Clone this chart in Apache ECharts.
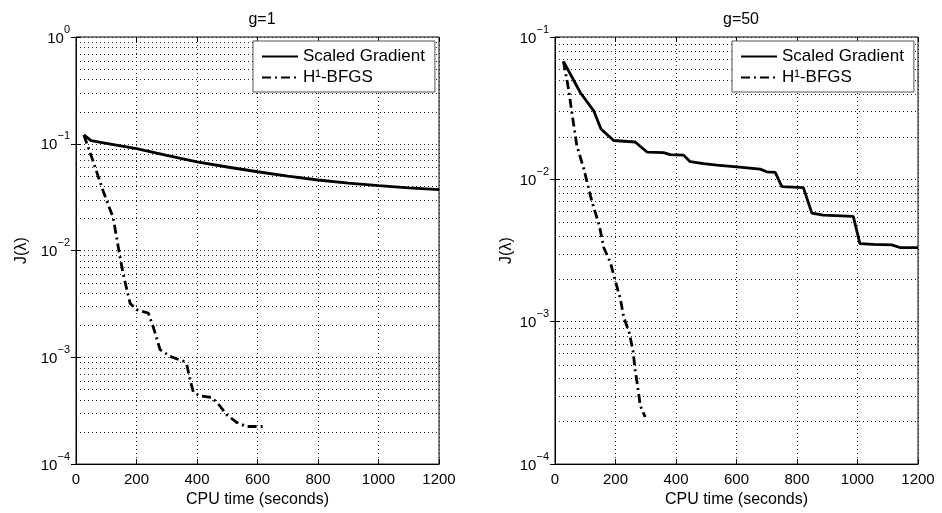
<!DOCTYPE html>
<html>
<head>
<meta charset="utf-8">
<script src="https://cdn.jsdelivr.net/npm/echarts@6/dist/echarts.min.js"></script>
<style>
  html, body { margin: 0; padding: 0; background: #fff; }
  #chart { width: 942px; height: 513px; }
</style>
</head>
<body>
<div id="chart"></div>
<script>
// g=1 panel
var g1ScaledTime = [26, 50, 100, 200, 300, 400, 500, 600, 700, 800, 900, 1000, 1100, 1200];
var g1ScaledJ = [0.121, 0.107, 0.101, 0.090, 0.0778, 0.0677, 0.0606, 0.0547, 0.0497, 0.0458, 0.0428, 0.0406, 0.0387, 0.0372];
var g1BfgsTime = [26, 57, 90, 123, 140, 156, 179, 200, 212, 239, 256, 278, 311, 355, 366, 377, 388, 410, 449, 476, 498, 531, 564, 619];
var g1BfgsJ = [0.121, 0.068, 0.036, 0.0202, 0.0107, 0.006, 0.0032, 0.0028, 0.00272, 0.0026, 0.0019, 0.00118, 0.00102, 0.00092, 0.00086, 0.00062, 0.00047, 0.000435, 0.00042, 0.00035, 0.00029, 0.000246, 0.000225, 0.000225];

// g=50 panel
var g50ScaledTime = [28, 84, 128, 152, 194, 265, 304, 359, 381, 425, 447, 491, 535, 601, 678, 700, 728, 750, 821, 849, 887, 986, 1008, 1052, 1113, 1140, 1200];
var g50ScaledJ = [0.0674, 0.0406, 0.0303, 0.0226, 0.01875, 0.0183, 0.01556, 0.0154, 0.0149, 0.0148, 0.0133, 0.0129, 0.0126, 0.01225, 0.0118, 0.0113, 0.0112, 0.0089, 0.00875, 0.0058, 0.0056, 0.0055, 0.00354, 0.0035, 0.00347, 0.00332, 0.00332];
var g50BfgsTime = [28, 45, 59, 72, 95, 122, 147, 161, 183, 199, 216, 227, 246, 258, 265, 273, 282, 298];
var g50BfgsJ = [0.0674, 0.0428, 0.0265, 0.0173, 0.0119, 0.0070, 0.00469, 0.00332, 0.00261, 0.00195, 0.00145, 0.00108, 0.00083, 0.00062, 0.00046, 0.000354, 0.000257, 0.000214];

var titles = ['g=1', 'g=50'];
var legendNames = ['Scaled Gradient', 'H\u00B9-BFGS'];
var yDecades = [[-4, 0], [-4, -1]];
var minorSteps = [2, 3, 4, 5, 6, 7, 8, 9];

function zip(xs, ys) {
    return xs.map(function (x, i) { return [x, ys[i]]; });
}

var FONT = 'Liberation Sans';
var gridLeft = [76, 555];
var yNameGap = [46, 40];
var dotted = { color: '#222', width: 1, type: [1, 3] };

// 10^n labels with superscript exponent
function powLabel(v) {
    var e = Math.round(Math.log10(v));
    return '{b|10}{s|' + (e < 0 ? '\u2212' + (-e) : e) + '}';
}
var powRich = {
    b: { fontSize: 15, fontFamily: FONT, color: '#000', lineHeight: 18, verticalAlign: 'bottom' },
    s: { fontSize: 11, fontFamily: FONT, color: '#000', lineHeight: 11, padding: [0, 0, 11, 0], verticalAlign: 'bottom' }
};

// minor log grid values 2..9 x 10^e
function minorValues(range) {
    var out = [];
    for (var e = range[0]; e < range[1]; e++) {
        minorSteps.forEach(function (k) { out.push([0, k * Math.pow(10, e)]); });
    }
    return out;
}

var tickStyle = { inside: true, length: 5, lineStyle: { color: '#000' } };
var grids = [], xAxes = [], yAxes = [], legends = [], titleOpts = [];
for (var i = 0; i < 2; i++) {
    var ymin = Math.pow(10, yDecades[i][0]), ymax = Math.pow(10, yDecades[i][1]);
    grids.push({ left: gridLeft[i], top: 37, width: 363, height: 432, show: true, borderColor: '#000', borderWidth: 1, backgroundColor: '#fff' });
    titleOpts.push({ text: titles[i], left: gridLeft[i] + 181, top: 7, textAlign: 'center',
        textStyle: { fontFamily: FONT, fontSize: 16, fontWeight: 'normal', color: '#000' } });
    xAxes.push({
        gridIndex: i, type: 'value', min: 0, max: 1200, interval: 200,
        name: 'CPU time (seconds)', nameLocation: 'middle', nameGap: 24,
        nameTextStyle: { fontFamily: FONT, fontSize: 16, color: '#000' },
        axisLine: { lineStyle: { color: '#000' } },
        axisTick: tickStyle,
        axisLabel: { fontFamily: FONT, fontSize: 15, color: '#000', margin: 8, formatter: function (v) { return String(v); } },
        splitLine: { show: true, lineStyle: dotted }
    });
    yAxes.push({
        gridIndex: i, type: 'log', logBase: 10, min: ymin, max: ymax, interval: 1,
        name: 'J(\u03BB)', nameLocation: 'middle', nameGap: yNameGap[i],
        nameTextStyle: { fontFamily: FONT, fontSize: 16, color: '#000' },
        axisLine: { show: true, lineStyle: { color: '#000' } },
        axisTick: tickStyle,
        axisLabel: { formatter: powLabel, rich: powRich, margin: 6 },
        splitLine: { show: true, lineStyle: dotted }
    });
    legends.push({
        data: legendNames, orient: 'vertical', left: gridLeft[i] + 177, top: 41,
        itemWidth: 36, itemHeight: 14, itemGap: 4, padding: [7, 10, 6, 8],
        borderColor: '#555', borderWidth: 1, backgroundColor: '#fff',
        itemStyle: { color: 'rgba(0,0,0,0)', borderWidth: 0 },
        textStyle: { fontFamily: FONT, fontSize: 17, color: '#000' }
    });
}
// mirrored ticks on top and right edges
for (var j = 0; j < 2; j++) {
    xAxes.push({ gridIndex: j, type: 'value', position: 'top', min: 0, max: 1200, interval: 200,
        axisLine: { show: false }, axisTick: tickStyle, axisLabel: { show: false }, splitLine: { show: false } });
    yAxes.push({ gridIndex: j, type: 'log', logBase: 10, position: 'right',
        min: Math.pow(10, yDecades[j][0]), max: Math.pow(10, yDecades[j][1]), interval: 1,
        axisLine: { show: false }, axisTick: tickStyle, axisLabel: { show: false }, splitLine: { show: false } });
}

function lineSeries(name, idx, data, dash) {
    return {
        name: name, type: 'line', xAxisIndex: idx, yAxisIndex: idx,
        data: data, symbol: 'none', smooth: false, silent: true, z: 3,
        lineStyle: { color: '#000', width: 2.8, type: dash ? [9, 4, 2, 4] : 'solid' },
        itemStyle: { color: '#000' }
    };
}

// dotted minor grid, snapped to whole pixels
function minorGrid(idx) {
    return {
        type: 'custom', name: 'minor', xAxisIndex: idx, yAxisIndex: idx, silent: true, z: 1, clip: false,
        data: minorValues(yDecades[idx]),
        renderItem: function (params, api) {
            var v = api.value(1);
            var a = api.coord([0, v]), b = api.coord([1200, v]);
            var y = Math.round(a[1]) + 0.5;
            return { type: 'line', silent: true,
                shape: { x1: a[0], y1: y, x2: b[0], y2: y },
                style: { stroke: '#222', lineWidth: 1, lineDash: [1, 3] } };
        }
    };
}

var series = [
    minorGrid(0), minorGrid(1),
    lineSeries(legendNames[0], 0, zip(g1ScaledTime, g1ScaledJ), false),
    lineSeries(legendNames[1], 0, zip(g1BfgsTime, g1BfgsJ), true),
    lineSeries(legendNames[0], 1, zip(g50ScaledTime, g50ScaledJ), false),
    lineSeries(legendNames[1], 1, zip(g50BfgsTime, g50BfgsJ), true)
];

var chart = echarts.init(document.getElementById('chart'), null, { renderer: 'canvas' });
chart.setOption({
    backgroundColor: '#fff',
    animation: false,
    title: titleOpts,
    legend: legends,
    grid: grids,
    xAxis: xAxes,
    yAxis: yAxes,
    series: series
});
</script>
</body>
</html>
